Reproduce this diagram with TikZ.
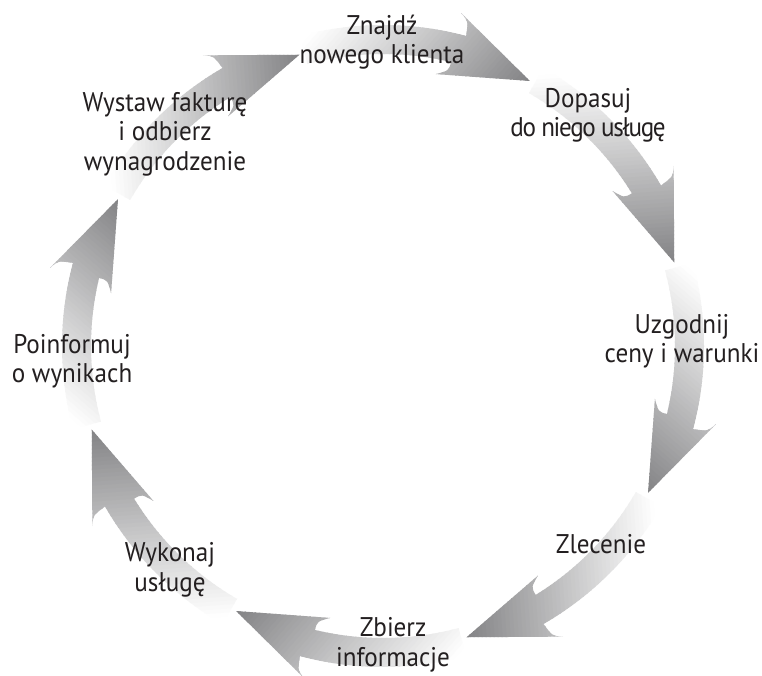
\documentclass[tikz,border=0pt]{standalone}
\usepackage{fontspec}
\setmainfont[FakeStretch=0.93]{PT Sans}
\definecolor{ink}{HTML}{231F20}
\definecolor{tipgray}{HTML}{838385}

\tikzset{
  lbl/.style={align=center, text=ink, inner sep=0pt,
    font=\fontsize{27}{29.5}\selectfont},
}

% One curved arrow of the cycle; #1 = polar angle of its tip (degrees),
% drawn around the origin, running clockwise over 44 degrees.
\newcommand{\cyclearrow}[1]{%
  \begin{scope}
    \clip ({#1+44}:321) arc[start angle={#1+44}, end angle={#1+14}, radius=321]
      .. controls ({#1+14.3}:336) .. ({#1+15.8}:342)
      -- ({#1}:303)
      -- ({#1+18}:277)
      .. controls ({#1+15.6}:283) .. ({#1+15.5}:292)
      arc[start angle={#1+15.5}, end angle={#1+44}, radius=292] -- cycle;
    % linear ramp from white (tail) to grey (tip)
    \begin{scope}[shift={({#1}:303)}, rotate={#1-102}]
      \foreach \k in {0,...,48} {
        \pgfmathsetmacro\p{100*(\k+0.5)/49}
        \fill[tipgray!\p!white] ({-196+4*\k},-300) rectangle ({-196+4*\k+5},300);
      }
      \fill[tipgray] (0,-300) rectangle (90,300);
    \end{scope}
  \end{scope}%
}

\begin{document}
\begin{tikzpicture}[x=1pt, y=1pt]
  \useasboundingbox (0,0) rectangle (762,675);
  \fill[white] (0,0) rectangle (762,675);

  % ring of arrows around the centre of the cycle
  \begin{scope}[shift={(383,329)}]
    \foreach \t in {61,16,-29,-74,-119,-164,151,106} {
      \cyclearrow{\t}
    }
  \end{scope}

  % step labels
  \node[lbl] (find)    at (382,633)   {Znajdź\\nowego klienta};
  \node[lbl] (fit)     at (588,559.5) {Dopasuj\\{\addfontfeature{LetterSpace=-5}do niego usługę}};
  \node[lbl] (agree)   at (682,334)   {Uzgodnij\\ceny i warunki};
  \node[lbl] (order)   at (601,131)   {Zlecenie};
  \node[lbl] (collect) at (393,30)    {Zbierz\\informacje};
  \node[lbl] (perform) at (170,105)   {Wykonaj\\usługę};
  \node[lbl] (inform)  at (72,314)    {Poinformuj\\o wynikach};
  \node[lbl] (invoice) at (165,541)   {Wystaw fakturę\\i odbierz\\wynagrodzenie};
\end{tikzpicture}
\end{document}
